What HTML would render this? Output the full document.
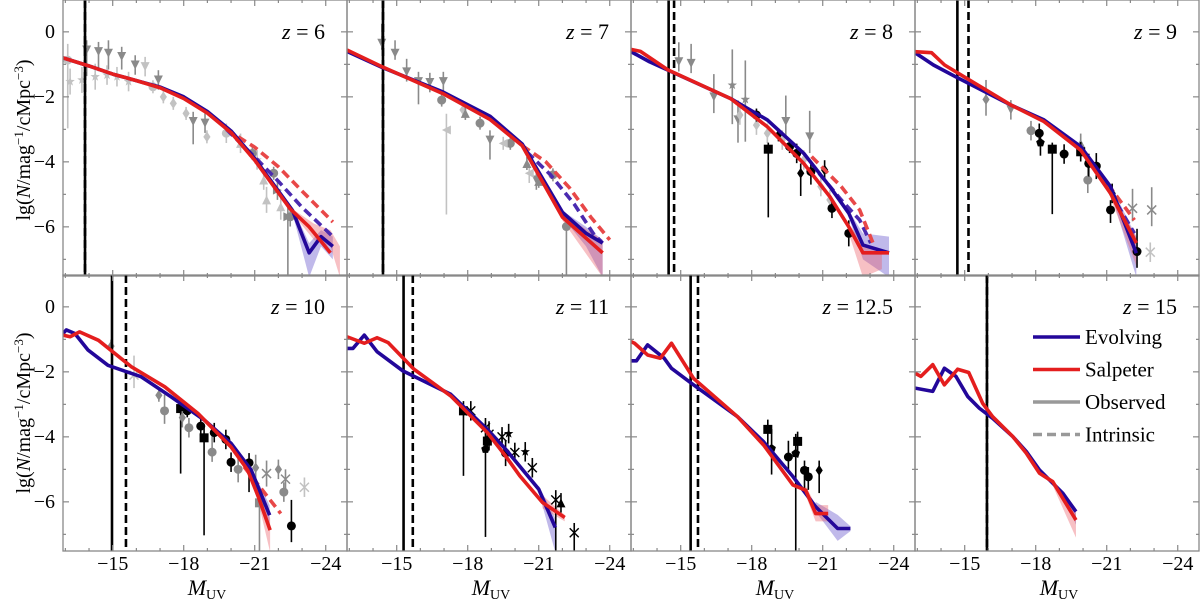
<!DOCTYPE html>
<html><head><meta charset="utf-8"><style>
body{margin:0;background:#fff;}
svg{display:block;}
text{font-family:"Liberation Serif","DejaVu Serif",serif;}
</style></head><body>
<svg id="fig" width="1200" height="600" viewBox="0 0 1200 600" xmlns="http://www.w3.org/2000/svg" font-family="Liberation Serif, DejaVu Serif, serif">
<g id="axes-labels">
<text font-family="Liberation Serif, serif" transform="translate(30,140) rotate(-90)" text-anchor="middle" font-size="20">lg(<tspan font-style="italic">N</tspan>/mag<tspan baseline-shift="super" font-size="13">−1</tspan>/cMpc<tspan baseline-shift="super" font-size="13">−3</tspan>)</text>
<text font-family="Liberation Serif, serif" transform="translate(30,413) rotate(-90)" text-anchor="middle" font-size="20">lg(<tspan font-style="italic">N</tspan>/mag<tspan baseline-shift="super" font-size="13">−1</tspan>/cMpc<tspan baseline-shift="super" font-size="13">−3</tspan>)</text>
</g>
</svg>
<script>
// ---------- data ----------
const redshiftLabels = ["6","7","8","9","10","11","12.5","15"];
const yTicks = [0,-2,-4,-6];
const yTickLabels = ["0","−2","−4","−6"];
const xTicks = [-15,-18,-21,-24];
const xTickLabels = ["−15","−18","−21","−24"];
const limitObs = [-13.83,-14.42,-14.49,-14.69,-14.97,-15.29,-15.42,-15.94];
const limitInt = [-13.83,-14.42,-14.72,-15.16,-15.56,-15.68,-15.73,-15.94];

const evolvingObs = [
 [[-12.9,-0.8],[-14,-1.05],[-15,-1.3],[-16,-1.5],[-17,-1.7],[-18,-2.0],[-19,-2.45],[-20,-3.05],[-21,-3.9],[-22,-4.9],[-22.6,-5.5],[-23.3,-6.8],[-23.8,-6.3],[-24.3,-6.6]],
 [[-12.9,-0.6],[-14.4,-1.1],[-16.95,-1.85],[-18.95,-2.6],[-20.3,-3.45],[-22.0,-5.55],[-23.0,-6.2],[-23.7,-6.5]],
 [[-12.9,-0.61],[-13.68,-0.92],[-17.1,-2.05],[-18.66,-2.71],[-20.2,-3.74],[-21.3,-4.76],[-22.1,-5.58],[-22.7,-6.56],[-23.8,-6.8]],
 [[-12.9,-0.64],[-13.68,-1.02],[-14.61,-1.38],[-16.95,-2.25],[-18.35,-2.71],[-19.9,-3.53],[-21.16,-4.76],[-22.25,-6.81]],
 [[-12.9,-0.82],[-13.04,-0.71],[-13.4,-0.82],[-13.96,-1.33],[-14.8,-1.8],[-16.2,-2.15],[-17.47,-2.77],[-18.88,-3.49],[-20.0,-4.2],[-20.85,-5.02],[-21.63,-6.41]],
 [[-12.9,-1.28],[-13.15,-1.28],[-13.63,-0.87],[-14.17,-1.38],[-15.26,-1.97],[-17.28,-2.69],[-18.83,-3.77],[-19.6,-4.38],[-21.0,-5.61],[-21.7,-6.79]],
 [[-12.9,-1.66],[-13.13,-1.66],[-13.6,-1.17],[-14.3,-1.58],[-14.61,-1.89],[-15.54,-2.4],[-17.4,-3.38],[-18.5,-4.15],[-19.74,-5.22],[-20.7,-6.15],[-21.63,-6.82],[-22.17,-6.82]],
 [[-12.9,-2.5],[-13.65,-2.6],[-14.14,-1.89],[-14.63,-2.14],[-15.13,-2.76],[-15.62,-3.12],[-16.18,-3.43],[-17.03,-3.99],[-17.6,-4.45],[-18.16,-5.02],[-19.15,-5.74],[-19.7,-6.3]]
];
const salpeterObs = [
 [[-12.9,-0.8],[-14,-1.05],[-15,-1.3],[-16,-1.5],[-17,-1.72],[-18,-2.05],[-19,-2.5],[-20,-3.1],[-21,-3.95],[-22,-4.95],[-22.5,-5.45],[-23.3,-6.0],[-24.2,-6.8]],
 [[-12.9,-0.56],[-14.4,-1.08],[-16.95,-1.9],[-18.95,-2.7],[-20.3,-3.5],[-22.0,-5.7],[-23.7,-6.8]],
 [[-12.9,-0.54],[-13.3,-0.6],[-14.46,-1.17],[-17.1,-2.05],[-18.66,-2.92],[-20.2,-4.05],[-21.3,-5.07],[-22.1,-6.0],[-22.7,-6.8],[-23.8,-6.8]],
 [[-12.9,-0.61],[-13.6,-0.64],[-14.15,-1.02],[-16.95,-2.25],[-18.35,-2.76],[-19.9,-3.64],[-21.16,-4.97],[-22.25,-6.5]],
 [[-12.9,-0.87],[-13.2,-0.92],[-13.6,-0.77],[-14.4,-1.03],[-15.8,-1.85],[-17.2,-2.46],[-18.6,-3.28],[-20.0,-4.31],[-20.7,-5.02],[-21.15,-5.84],[-21.65,-6.87]],
 [[-12.9,-0.92],[-13.63,-1.12],[-14.17,-0.95],[-14.64,-1.1],[-15.73,-1.92],[-17.28,-2.74],[-18.83,-3.87],[-19.6,-4.59],[-20.2,-5.2],[-21.16,-6.02],[-22.1,-6.48]],
 [[-12.9,-1.07],[-13.05,-1.12],[-13.6,-1.48],[-14.14,-1.58],[-14.61,-1.12],[-15.54,-2.2],[-17.4,-3.38],[-18.5,-4.25],[-19.74,-5.48],[-20.28,-5.64],[-20.7,-6.36],[-21.23,-6.36]],
 [[-12.9,-2.04],[-13.15,-2.14],[-13.65,-1.78],[-14.14,-2.4],[-14.7,-1.92],[-15.17,-2.02],[-15.76,-2.97],[-16.18,-3.38],[-17.03,-3.99],[-17.6,-4.5],[-18.16,-5.12],[-18.72,-5.38],[-19.7,-6.56]]
];
const evolvingInt = [
 [[-19.8,-3.0],[-21,-3.85],[-22,-4.6],[-23,-5.4],[-24.3,-6.3]],
 [[-20.5,-3.7],[-21.5,-4.4],[-22.5,-5.3],[-23.3,-6.2],[-23.7,-6.5]],
 [[-20.84,-4.35],[-21.78,-5.17],[-22.56,-5.79],[-23.03,-6.5]],
 [[-20.84,-4.56],[-22.17,-6.2]],
 [],[],[],[]
];
const salpeterInt = [
 [[-19.8,-3.0],[-21,-3.55],[-22,-4.15],[-23,-4.9],[-24.3,-5.85]],
 [[-20.3,-3.5],[-21.3,-4.0],[-22.3,-4.8],[-23.2,-5.7],[-24.0,-6.4]],
 [[-20.53,-3.84],[-21.78,-4.76],[-22.56,-5.48],[-23.18,-6.6]],
 [[-20.7,-4.35],[-22.17,-5.79]],
 [[-20.55,-4.92],[-22.1,-6.36]],
 [],[],[]
];
// bands: [M, lo, hi]
const evolvingBand = [
 [[-22.6,-5.6,-5.4],[-23.3,-7.55,-6.5],[-23.8,-6.6,-6.1],[-24.3,-7.0,-6.3]],
 [[-22.0,-5.7,-5.5],[-23.0,-6.6,-6.0],[-23.7,-7.55,-6.4]],
 [[-22.1,-5.7,-5.5],[-22.7,-7.0,-6.2],[-23.8,-7.55,-6.3]],
 [[-21.16,-4.9,-4.7],[-22.25,-7.55,-6.3]],
 [[-20.85,-5.1,-4.95],[-21.63,-6.8,-6.1]],
 [[-21.0,-5.7,-5.5],[-21.7,-7.55,-6.5]],
 [[-20.7,-6.3,-6.0],[-21.63,-7.2,-6.4],[-22.17,-6.9,-6.75]],
 [[-19.15,-5.8,-5.7],[-19.7,-6.7,-6.2]]
];
const salpeterBand = [
 [[-22.5,-5.5,-5.4],[-23.5,-6.4,-5.9],[-24.2,-6.6,-6.1],[-24.6,-7.55,-6.6]],
 [[-22.0,-5.8,-5.6],[-23.7,-7.55,-6.4]],
 [[-22.1,-6.2,-5.9],[-22.7,-7.55,-6.5],[-23.5,-7.3,-6.7]],
 [[-21.16,-5.1,-4.9],[-22.25,-7.2,-6.3]],
 [[-21.15,-6.0,-5.7],[-21.65,-7.55,-6.5]],
 [[-21.16,-6.2,-5.8],[-22.1,-6.6,-6.4]],
 [[-20.28,-5.8,-5.5],[-20.7,-6.6,-6.1],[-21.23,-6.6,-6.1]],
 [[-18.72,-5.5,-5.3],[-19.7,-7.1,-6.3]]
];
// observed points: [M, lg, errDown, errUp, marker, colour]
const observedPoints = [
 [[-13.9,-0.56,0.8,0.3,"v","g"],[-14.4,-0.61,0.6,0.3,"v","g"],[-14.82,-0.66,0.5,0.4,"v","g"],[-15.38,-0.76,0.4,0.3,"v","g"],[-15.95,-1.02,0.3,0.3,"v","g"],[-16.37,-1.07,0.3,0.3,"v","l"],[-16.93,-1.48,0.3,0.3,"v","g"],[-18.4,-2.76,0.7,0.3,"v","g"],[-18.9,-2.81,0.3,0.3,"v","g"],
  [-13.2,-1.53,0.4,0.4,"*","l"],[-13.7,-1.48,0.4,0.4,"*","l"],[-14.26,-1.38,0.4,0.4,"*","l"],[-14.76,-1.33,0.3,0.3,"*","l"],[-15.18,-1.38,0.3,0.3,"*","l"],[-15.67,-1.53,0.3,0.3,"*","l"],
  [-13.1,-0.87,2.1,0.5,"o","l"],[-16.7,-1.69,0.2,0.2,"o","l"],[-17.14,-2.0,0.2,0.2,"d","l"],[-17.56,-2.2,0.2,0.2,"d","l"],[-18.1,-2.51,0.2,0.2,"d","l"],[-18.98,-3.23,0.2,0.2,"d","l"],[-19.8,-3.12,0.3,0.3,"o","l"],[-20.4,-3.43,0.3,0.3,"^","l"],[-21.1,-3.94,0.3,0.3,"*","l"],[-21.38,-4.56,0.3,0.3,"^","l"],[-21.5,-5.17,0.4,0.4,"^","l"],[-21.96,-4.87,0.3,0.3,">","g"],[-22.1,-5.38,0.4,0.4,"^","l"],[-22.4,-5.69,2.0,0.4,">","g"],
  [-20.9,-3.74,0.2,0.2,"o","g"],[-21.8,-4.35,0.2,0.2,"o","g"],[-22.5,-5.69,0.3,0.3,"o","g"]],
 [[-14.37,-0.35,0.2,0.6,"v","g"],[-14.93,-0.66,0.2,0.4,"v","g"],[-15.42,-1.23,0.3,0.4,"v","g"],[-15.92,-1.53,0.7,0.3,"v","g"],[-16.4,-1.56,0.3,0.3,"v","g"],[-16.97,-1.53,0.3,0.3,"v","g"],[-18.94,-3.33,0.6,0.3,"v","g"],[-20.9,-4.56,0.3,0.3,"v","g"],
  [-16.9,-2.1,0.2,0.2,"o","g"],[-18.52,-2.81,0.2,0.2,"o","g"],[-19.8,-3.43,0.2,0.2,"o","g"],[-21.6,-4.4,0.2,0.2,"o","g"],[-22.17,-5.99,2.0,0.3,"o","g"],
  [-17.1,-3.02,2.6,0.5,"<","l"],[-17.8,-2.4,0.2,0.2,"d","l"],[-19.5,-3.43,0.2,0.2,"<","l"],[-20.6,-4.35,0.3,0.3,"<","l"],
  [-17.9,-2.51,0.2,0.2,"^","g"],[-20.5,-4.05,0.2,0.2,"^","g"],[-21.0,-4.6,0.2,0.2,"^","g"]],
 [[-14.92,-0.92,0.3,0.6,"v","g"],[-15.44,-0.97,0.3,0.6,"v","g"],[-16.4,-2.0,0.5,0.7,"v","g"],[-17.42,-2.71,0.7,0.6,"v","g"],[-19.44,-2.76,0.5,0.8,"v","g"],[-20.45,-3.23,0.5,0.8,"v","g"],
  [-17.18,-1.64,1.2,1.1,"*","g"],[-17.73,-2.08,1.3,1.2,"*","g"],
  [-17.5,-2.56,0.3,0.3,"d","l"],[-18.2,-2.87,0.3,0.3,"d","l"],[-18.66,-3.12,0.3,0.3,"d","l"],[-19.29,-3.33,0.3,0.3,"d","l"],[-20.2,-3.94,0.3,0.3,"d","l"],[-20.92,-4.76,0.3,0.3,"d","l"],[-21.3,-5.17,0.3,0.3,"d","l"],
  [-18.7,-3.61,2.1,0.2,"s","k"],[-18.2,-2.56,0.2,0.2,"o","k"],[-19.13,-3.17,0.2,0.2,"d","k"],[-19.6,-3.53,0.2,0.2,"o","k"],[-19.9,-3.74,0.3,0.3,"o","k"],[-20.07,-4.35,0.7,0.3,"d","k"],[-20.5,-4.3,0.4,0.3,"o","k"],[-21.08,-4.25,0.3,0.3,"d","k"],[-21.39,-5.43,0.3,0.3,"o","k"],[-22.1,-6.2,0.4,0.4,"o","k"]],
 [[-15.9,-2.08,0.5,0.6,"d","g"],[-16.95,-2.4,0.3,0.3,"v","g"],[-17.8,-3.04,0.3,0.3,"o","g"],[-19.9,-3.43,0.3,0.3,"^","g"],[-20.2,-4.56,0.4,0.4,"o","g"],
  [-18.15,-3.12,0.4,0.3,"o","k"],[-18.2,-3.41,0.4,0.3,"p","k"],[-18.7,-3.61,2.0,0.2,"s","k"],[-19.2,-3.76,0.3,0.3,"o","k"],[-19.9,-3.69,0.3,0.3,"s","k"],[-20.24,-4.05,0.4,0.3,"o","k"],[-20.56,-4.13,0.4,0.4,"o","k"],[-21.23,-4.97,0.3,0.3,"d","k"],[-21.16,-5.48,0.4,0.3,"o","k"],[-22.28,-6.76,0.5,0.7,"o","k"],
  [-22.09,-5.43,0.4,0.6,"x","g"],[-22.9,-5.48,0.5,0.7,"x","g"],[-22.84,-6.78,0.3,0.3,"x","l"]],
 [[-14.93,-1.21,0.2,0.2,"d","g"],[-15.9,-2.1,0.4,0.6,"x","l"],[-16.95,-2.72,0.2,0.2,"d","g"],[-17.19,-3.2,0.4,0.5,"o","g"],[-17.87,-3.13,2.0,0.2,"s","k"],[-18.15,-3.2,0.2,0.2,"o","k"],[-17.94,-3.41,0.3,0.2,"d","g"],[-18.22,-3.72,0.3,0.3,"o","g"],[-18.72,-3.67,0.3,0.3,"o","k"],[-18.86,-4.03,3.0,0.3,"s","k"],[-19.2,-4.47,0.3,0.5,"o","g"],[-19.29,-3.87,0.3,0.3,"o","k"],[-19.78,-4.08,0.3,0.3,"o","k"],[-20.0,-4.78,0.3,0.3,"o","k"],[-20.3,-5.0,0.4,0.4,"o","g"],[-20.76,-4.8,0.9,0.3,"o","k"],[-21.04,-4.95,0.4,0.4,"d","g"],[-21.2,-6.03,1.5,0.3,"s","g"],[-21.5,-5.13,0.4,0.4,"x","g"],[-22.0,-5.0,0.3,0.3,"d","g"],[-22.3,-5.3,0.3,0.3,"x","g"],[-22.23,-5.7,0.3,0.3,"o","g"],[-23.1,-5.55,0.3,0.3,"x","l"],[-22.55,-6.74,0.5,0.8,"o","k"]],
 [[-17.82,-3.2,2.0,0.3,"s","k"],[-18.13,-3.2,0.3,0.3,"a","k"],[-18.75,-3.72,0.4,0.3,"a","k"],[-18.75,-4.38,2.7,0.3,"p","k"],[-18.83,-4.13,0.3,0.3,"s","k"],[-18.9,-3.92,0.5,0.4,"a","k"],[-19.45,-4.0,0.3,0.3,"a","k"],[-19.73,-3.9,0.3,0.3,"*","k"],[-19.6,-4.5,0.4,0.4,"o","k"],[-19.99,-4.48,0.3,0.3,"a","k"],[-20.43,-4.46,0.3,0.3,"*","k"],[-20.73,-4.95,0.3,0.3,"a","k"],[-21.72,-5.94,1.6,0.3,"a","k"],[-21.94,-6.03,0.3,0.3,"^","k"],[-22.5,-6.95,0.6,0.3,"a","k"]],
 [[-18.68,-3.77,0.5,0.3,"s","k"],[-18.84,-4.36,0.8,0.6,"p","k"],[-19.55,-4.62,0.4,0.5,"o","k"],[-19.86,-4.51,3.1,0.6,"p","k"],[-19.94,-4.14,0.5,0.3,"s","k"],[-20.23,-5.03,0.6,0.3,"o","k"],[-20.39,-5.23,0.4,0.3,"o","k"],[-20.85,-5.03,0.7,0.3,"d","k"]],
 []
];

// ---------- geometry ----------
const svg = document.getElementById('fig');
const NS = "http://www.w3.org/2000/svg";
const lefts = [63,347,631,915];
const tops = [0,275];
const PW = 284, PH = 276;
const M0 = -12.9, MPX = 23.67, L0 = 0.98, LPX = 32.5;
const BLUE = "#23079a", RED = "#e41e1e";
const SERIF = "Liberation Serif, DejaVu Serif, serif";
const greyCol = {k:"#000", g:"#8a8a8a", l:"#c2c2c2"};

function mk(tag, attrs, parent){
  const e = document.createElementNS(NS, tag);
  for (const k in attrs) e.setAttribute(k, attrs[k]);
  if (tag === 'text') e.setAttribute('font-family', SERIF);
  (parent||svg).appendChild(e);
  return e;
}

for (let p = 0; p < 8; p++) {
  const col = p % 4, row = Math.floor(p / 4);
  const x0 = lefts[col], y0 = tops[row];
  const xs = M => x0 + (M0 - M) * MPX;
  const ys = v => y0 + (L0 - v) * LPX;

  const g = mk('g', {});
  
  
  const cid = 'clip' + p;
  const cp = mk('clipPath', {id: cid}, g);
  mk('rect', {x: x0, y: y0, width: PW, height: PH}, cp);
  const inner = mk('g', {'clip-path': 'url(#' + cid + ')'}, g);

  [[evolvingBand[p], "rgba(90,70,200,0.38)", 'evolving-band'], [salpeterBand[p], "rgba(235,90,100,0.38)", 'salpeter-band']].forEach(([b, c, nm]) => {
    if (!b.length) return;
    const up = b.map(d => xs(d[0]) + ',' + ys(d[2]));
    const lo = b.slice().reverse().map(d => xs(d[0]) + ',' + ys(d[1]));
    const poly = mk('polygon', {points: up.concat(lo).join(' '), fill: c}, inner);
    
    
  });

  observedPoints[p].forEach(d => {
    const cx = xs(d[0]), cy = ys(d[1]), c = greyCol[d[5]];
    const eb = mk('line', {x1: cx, x2: cx, y1: ys(d[1] - d[2]), y2: ys(d[1] + d[3]), stroke: c, 'stroke-width': 1.6}, inner);
    
    
    const r = 4.5, t = d[4];
    let m;
    if (t === 'o') m = mk('circle', {cx, cy, r, fill: c}, inner);
    else if (t === 's') m = mk('rect', {x: cx - r, y: cy - r, width: 2 * r, height: 2 * r, fill: c}, inner);
    else if (t === 'v') m = mk('polygon', {points: `${cx - r},${cy - r} ${cx + r},${cy - r} ${cx},${cy + r}`, fill: c}, inner);
    else if (t === '^') m = mk('polygon', {points: `${cx - r},${cy + r} ${cx + r},${cy + r} ${cx},${cy - r}`, fill: c}, inner);
    else if (t === '<') m = mk('polygon', {points: `${cx + r},${cy - r} ${cx + r},${cy + r} ${cx - r},${cy}`, fill: c}, inner);
    else if (t === '>') m = mk('polygon', {points: `${cx - r},${cy - r} ${cx - r},${cy + r} ${cx + r},${cy}`, fill: c}, inner);
    else if (t === 'd') m = mk('polygon', {points: `${cx},${cy - r * 1.2} ${cx + r * 0.8},${cy} ${cx},${cy + r * 1.2} ${cx - r * 0.8},${cy}`, fill: c}, inner);
    else if (t === 'p') m = mk('polygon', {points: [0,1,2,3,4].map(i => { const a = -Math.PI / 2 + i * 2 * Math.PI / 5; return (cx + r * Math.cos(a)) + ',' + (cy + r * Math.sin(a)); }).join(' '), fill: c}, inner);
    else if (t === '*') m = mk('polygon', {points: [0,1,2,3,4,5,6,7,8,9].map(i => { const a = -Math.PI / 2 + i * Math.PI / 5, rr = i % 2 ? r * 0.45 : r * 1.1; return (cx + rr * Math.cos(a)) + ',' + (cy + rr * Math.sin(a)); }).join(' '), fill: c}, inner);
    else if (t === 'x') m = mk('path', {d: `M${cx - r},${cy - r}L${cx + r},${cy + r}M${cx - r},${cy + r}L${cx + r},${cy - r}`, stroke: c, 'stroke-width': 1.5}, inner);
    else m = mk('path', {d: `M${cx - r},${cy - r}L${cx + r},${cy + r}M${cx - r},${cy + r}L${cx + r},${cy - r}M${cx},${cy - r * 1.2}L${cx},${cy + r * 1.2}`, stroke: c, 'stroke-width': 1.4}, inner);
    
    
  });

  const l1 = mk('line', {x1: xs(limitObs[p]), x2: xs(limitObs[p]), y1: y0, y2: y0 + PH, stroke: '#000', 'stroke-width': 2.6}, inner);
  
  
  const l2 = mk('line', {x1: xs(limitInt[p]), x2: xs(limitInt[p]), y1: y0, y2: y0 + PH, stroke: '#000', 'stroke-width': 2.6, 'stroke-dasharray': '8,4'}, inner);
  
  

  const pl = (arr, c, dash, nm) => {
    if (!arr.length) return;
    const e = mk('polyline', {points: arr.map(d => xs(d[0]) + ',' + ys(d[1])).join(' '), fill: 'none', stroke: c, 'stroke-width': 3.6, 'stroke-linejoin': 'round', 'stroke-dasharray': dash || 'none'}, inner);
    
    
  };
  pl(evolvingInt[p], "#4a2ab0", '9,5', 'evolving-intrinsic-line');
  pl(salpeterInt[p], "#e84848", '9,5', 'salpeter-intrinsic-line');
  pl(evolvingObs[p], BLUE, null, 'evolving-observed-line');
  pl(salpeterObs[p], RED, null, 'salpeter-observed-line');

  const fr = mk('rect', {x: x0, y: y0, width: PW, height: PH, fill: 'none', stroke: '#888', 'stroke-width': 1.3}, g);
  
  

  for (let m = -13; m >= -24; m--) {
    const len = (m % 3 === 0) ? 6 : 3, x = xs(m);
    mk('line', {x1: x, x2: x, y1: y0, y2: y0 + len, stroke: '#888', 'stroke-width': 1.2}, g);
    mk('line', {x1: x, x2: x, y1: y0 + PH, y2: y0 + PH - len, stroke: '#888', 'stroke-width': 1.2}, g);
  }
  for (let v = 0; v >= -7; v--) {
    const len = (v % 2 === 0) ? 6 : 3, y = ys(v);
    mk('line', {x1: x0, x2: x0 + len, y1: y, y2: y, stroke: '#888', 'stroke-width': 1.2}, g);
    mk('line', {x1: x0 + PW, x2: x0 + PW - len, y1: y, y2: y, stroke: '#888', 'stroke-width': 1.2}, g);
  }
  if (col === 0) {
    yTicks.forEach((v, i) => {
      const t = mk('text', {x: x0 - 8, y: ys(v) + 6, 'text-anchor': 'end', 'font-size': 20}, g);
      t.textContent = yTickLabels[i];
      
      
    });
  }
  if (row === 1) {
    xTicks.forEach((m, i) => {
      const t = mk('text', {x: xs(m), y: y0 + PH + 19, 'text-anchor': 'middle', 'font-size': 20}, g);
      t.textContent = xTickLabels[i];
      
      
    });
    const xl = mk('text', {x: x0 + PW / 2 + 2, y: y0 + PH + 44, 'text-anchor': 'middle', 'font-size': 22}, g);
    xl.innerHTML = '<tspan font-style="italic">M</tspan><tspan font-size="14" dy="4">UV</tspan>';
    
    
  }
  const zl = mk('text', {x: x0 + PW - 22, y: y0 + 39, 'text-anchor': 'end', 'font-size': 22}, g);
  zl.innerHTML = '<tspan font-style="italic">z</tspan> = ' + redshiftLabels[p];
  
  
}

const lg = mk('g', {});


const legendItems = [["Evolving", BLUE, null], ["Salpeter", RED, null], ["Observed", "#999", null], ["Intrinsic", "#999", "9,5"]];
legendItems.forEach((it, i) => {
  const y = 337 + i * 32.5;
  const ln = mk('line', {x1: 1033, x2: 1080, y1: y, y2: y, stroke: it[1], 'stroke-width': 3.5, 'stroke-dasharray': it[2] || 'none'}, lg);
  
  
  const t = mk('text', {x: 1085, y: y + 7, 'font-size': 21}, lg);
  t.textContent = it[0];
  
  
});
</script>
</body></html>
